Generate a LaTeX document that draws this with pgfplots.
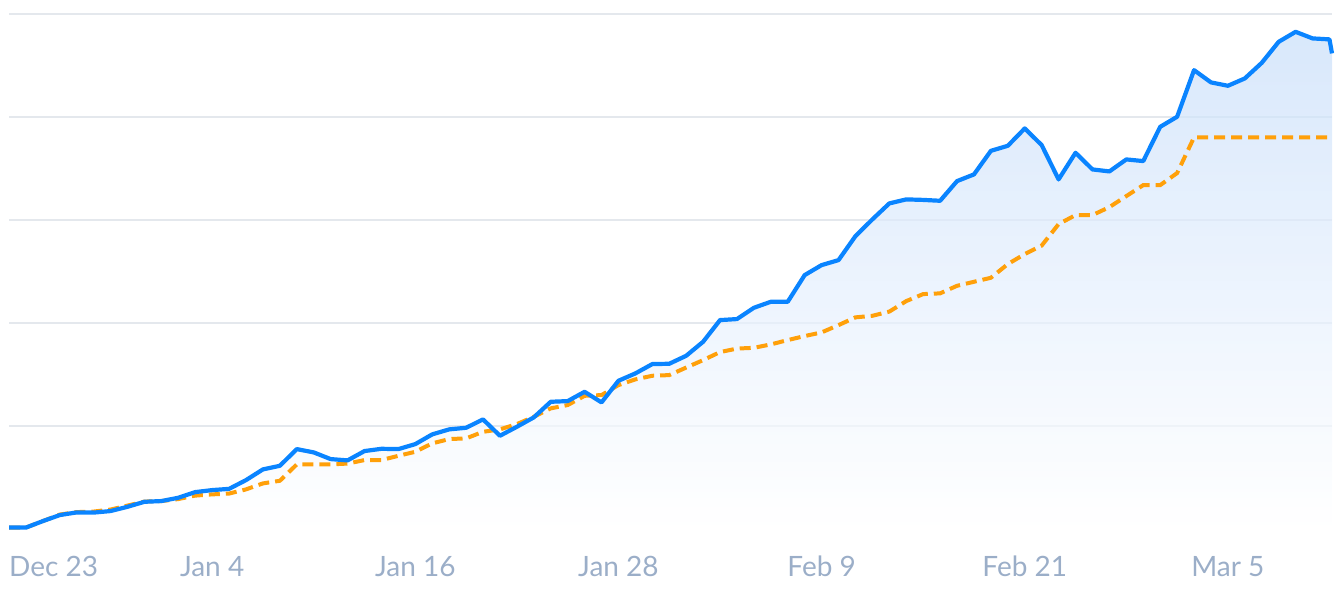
\documentclass[border=0pt]{standalone}
\usepackage{fontspec}
\setmainfont{Lato}
\usepackage{pgfplots}
\usepackage{pgfplotstable}
\pgfplotsset{compat=1.18}

\definecolor{lineblue}{RGB}{10,132,255}
\definecolor{lineorange}{RGB}{255,160,10}
\definecolor{gridgrey}{RGB}{228,232,237}
\definecolor{labelgrey}{RGB}{155,174,200}
\definecolor{fillblue}{RGB}{200,222,250}

% day 0 = Dec 23
\pgfplotstableread{
day value
0 0.29
1 0.29
2 1.55
3 2.72
4 3.24
5 3.20
6 3.50
7 4.33
8 5.30
9 5.44
10 6.08
11 7.18
12 7.57
13 7.81
14 9.51
15 11.59
16 12.29
17 15.53
18 14.89
19 13.59
20 13.34
21 15.15
22 15.59
23 15.53
24 16.50
25 18.39
26 19.36
27 19.67
28 21.30
29 18.12
30 19.86
31 21.69
32 24.72
33 24.85
34 26.66
35 24.60
36 28.80
37 30.23
38 32.04
39 32.10
40 33.65
41 36.37
42 40.58
43 40.78
44 42.97
45 44.14
46 44.14
47 49.32
48 51.26
49 52.23
50 56.89
51 60.14
52 63.24
53 64.02
54 63.92
55 63.75
56 67.57
57 68.87
58 73.45
59 74.43
60 77.80
61 74.56
62 67.90
63 73.07
64 69.84
65 69.45
66 71.78
67 71.46
68 78.11
69 80.06
70 89.12
71 86.74
72 86.08
73 87.51
74 90.54
75 94.62
76 96.56
77 95.28
78 95.09
78.15 92.37
}\bluedata

\pgfplotstableread{
day value
0 0.29
1 0.29
2 1.55
3 2.82
4 3.30
5 3.40
6 3.79
7 4.56
8 5.34
9 5.44
10 5.83
11 6.50
12 6.74
13 6.89
14 7.71
15 8.87
16 9.38
17 12.56
18 12.56
19 12.56
20 12.72
21 13.40
22 13.40
23 14.23
24 15.01
25 16.64
26 17.48
27 17.61
28 18.89
29 19.36
30 20.39
31 21.81
32 23.44
33 24.08
34 25.88
35 26.02
36 27.96
37 29.07
38 29.77
39 29.90
40 31.36
41 32.81
42 34.37
43 35.05
44 35.20
45 35.86
46 36.70
47 37.48
48 38.19
49 39.61
50 41.11
51 41.42
52 42.23
53 44.27
54 45.63
55 45.77
56 47.24
57 48.02
58 48.80
59 51.46
60 53.40
61 55.05
62 59.22
63 60.97
64 60.97
65 62.52
66 64.66
67 66.79
68 66.79
69 69.13
70 76.06
71 76.06
72 76.06
73 76.06
74 76.06
75 76.06
76 76.06
77 76.06
78 76.06
78.15 76.06
}\orangedata

\begin{document}
\begin{tikzpicture}
\begin{axis}[
  scale only axis,
  width=1323pt, height=529pt,
  xmin=0, xmax=78.15,
  ymin=0, ymax=102.72,
  clip=false,
  axis line style={draw=none},
  major tick length=0pt,
  ytick={20,40,60,80,100},
  yticklabels={},
  ymajorgrids,
  grid style={gridgrey, line width=1.5pt},
  xtick={12,24,36,48,60,72},
  xticklabels={Jan 4, Jan 16, Jan 28, Feb 9, Feb 21, Mar 5},
  xticklabel style={anchor=base, yshift=-47pt, text=labelgrey,
    font=\fontsize{28}{32}\selectfont},
]
  \addplot[draw=none, top color=fillblue, bottom color=white, fill opacity=0.7]
    table[x=day, y=value] {\bluedata} \closedcycle;
  \addplot[lineorange, line width=4pt, dash pattern=on 11pt off 6pt]
    table[x=day, y=value] {\orangedata};
  \addplot[lineblue, line width=4.2pt, line join=round]
    table[x=day, y=value] {\bluedata};
  \node[anchor=base west, yshift=-47pt, inner sep=0pt, text=labelgrey,
    font=\fontsize{28}{32}\selectfont] at (axis cs:0,0) {Dec 23};
\end{axis}
\path ([xshift=-9pt, yshift=-62pt]current axis.south west)
  rectangle ([xshift=11pt]current axis.north east);
\end{tikzpicture}
\end{document}
